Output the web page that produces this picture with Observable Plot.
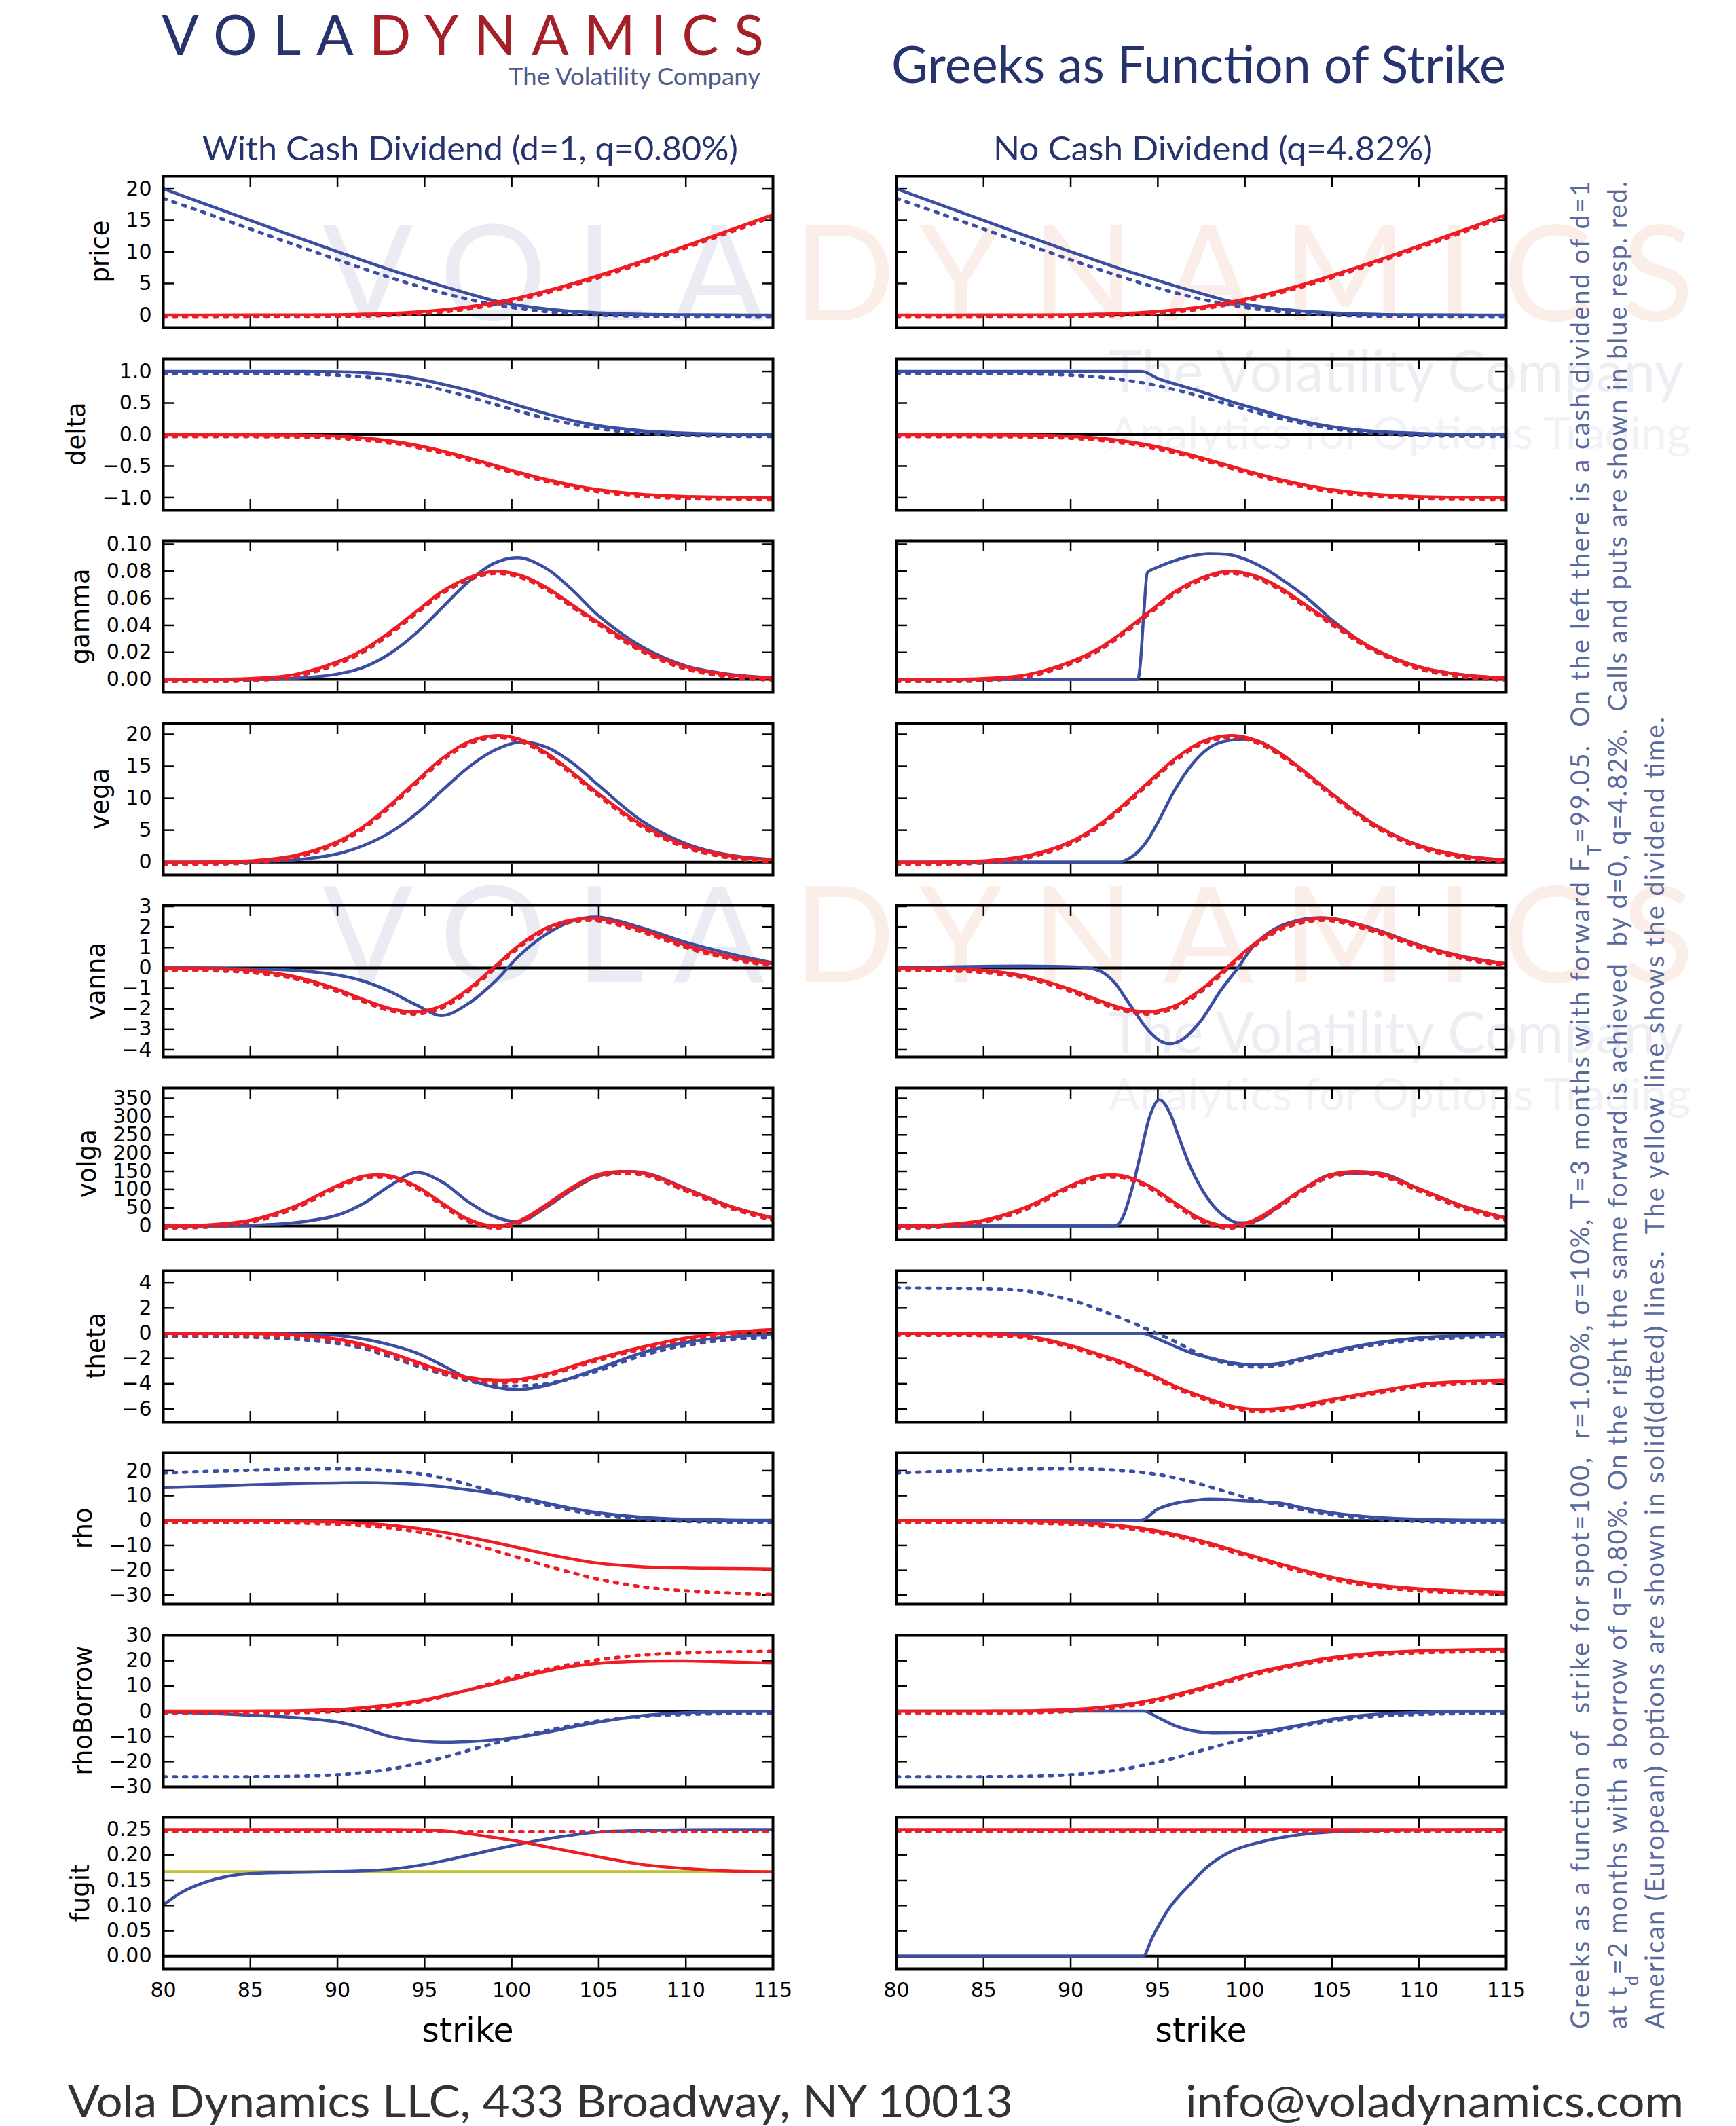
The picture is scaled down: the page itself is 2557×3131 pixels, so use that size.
<!DOCTYPE html>
<html><head><meta charset="utf-8">
<script src="https://cdn.jsdelivr.net/npm/d3@7"></script>
<script src="https://cdn.jsdelivr.net/npm/@observablehq/plot@0.6"></script>
<style>
html,body{margin:0;padding:0;background:#fff;}
#page{position:relative;width:2557px;height:3131px;overflow:hidden;background:#fff;}
svg text{white-space:pre;}
</style></head>
<body><div id="page"></div>
<script>
// ---------------- DATA ----------------
const strikes = [80,82.5,85,87.5,90,91.5,93,94.5,96,97.5,99,100.5,102,103.5,105,107.5,110,112.5,115];
const strikeTicks = [80,85,90,95,100,105,110,115];
const greekLabels = ["price","delta","gamma","vega","vanna","volga","theta","rho","rhoBorrow","fugit"];

// price
const priceTicks = [0,5,10,15,20];
const priceCallAm = [20.0,17.5,15.0,12.5,10.05,8.6,7.2,5.9,4.6,3.4,2.25,1.5,0.95,0.58,0.35,0.12,0.04,0.01,0.0];
const priceCallEu = [18.8,16.4,13.95,11.5,9.08,7.67,6.28,5.01,3.84,2.83,2.0,1.34,0.87,0.53,0.32,0.11,0.035,0.01,0.0];
const pricePut = [0,0,0.005,0.015,0.05,0.14,0.25,0.47,0.8,1.28,1.95,2.79,3.81,4.97,6.26,8.54,10.96,13.42,15.91];

// delta
const deltaTicks = [-1,-0.5,0,0.5,1];
const deltaCallAmL = [1.0,1.0,1.0,1.0,0.995,0.98,0.95,0.89,0.80,0.70,0.58,0.45,0.33,0.22,0.14,0.06,0.025,0.008,0.002];
const deltaCallEu = [1.0,1.0,0.999,0.994,0.974,0.946,0.9,0.833,0.742,0.633,0.514,0.395,0.287,0.197,0.127,0.053,0.019,0.006,0.002];
const deltaPut = [0,0,-0.001,-0.006,-0.026,-0.054,-0.1,-0.167,-0.258,-0.367,-0.486,-0.605,-0.713,-0.803,-0.873,-0.947,-0.981,-0.994,-0.998];
const deltaStrikesR = [80,94.07,95,96,97.5,99,100.5,102,103.5,105,107.5,110,112.5,115];
const deltaCallAmR = [1.0,1.0,0.89,0.80,0.68,0.54,0.42,0.30,0.20,0.125,0.05,0.02,0.006,0.002];

// gamma
const gammaTicks = [0,0.02,0.04,0.06,0.08,0.10];
const gammaEu = [0,0.0001,0.0007,0.0035,0.013,0.022,0.035,0.050,0.065,0.075,0.080,0.077,0.068,0.055,0.042,0.022,0.0093,0.0034,0.001];
const gammaCallAmL = [0,0,0.0001,0.0008,0.004,0.009,0.019,0.034,0.053,0.072,0.086,0.090,0.082,0.066,0.047,0.024,0.010,0.0038,0.0012];
const gammaStrikesR = [80,93.85,94.0,94.2,94.4,95,96,97,98,99,100,101,102,103.5,105,107.5,110,112.5,115];
const gammaCallAmR = [0,0,0.012,0.05,0.079,0.083,0.088,0.0915,0.093,0.0925,0.089,0.083,0.075,0.061,0.044,0.0215,0.0093,0.0034,0.001];

// vega
const vegaTicks = [0,5,10,15,20];
const vegaEu = [0,0.03,0.2,1.0,3.2,5.6,8.9,12.6,16.2,18.8,19.8,19.2,17.1,14.0,10.7,5.8,2.6,1.0,0.35];
const vegaCallAmL = [0,0.01,0.08,0.35,1.3,2.6,4.6,7.5,11.2,14.8,17.5,18.8,18.0,15.5,12.0,6.4,2.9,1.1,0.4];
const vegaStrikesR = [80,92.8,93.3,94,94.5,95,96,97,98,99,100,101,102,103.5,105,107.5,110,112.5,115];
const vegaCallAmR = [0,0,0.5,2.0,3.8,6.2,11.4,15.4,18.0,19.0,19.25,18.7,17.1,14.0,10.7,5.8,2.6,1.0,0.35];

// vanna
const vannaTicks = [-4,-3,-2,-1,0,1,2,3];
const vannaEu = [-0.01,-0.03,-0.12,-0.42,-1.05,-1.55,-1.98,-2.15,-1.85,-1.05,0.05,1.15,1.95,2.35,2.4,1.85,1.1,0.55,0.2];
const vannaCallAmL = [0,-0.01,-0.05,-0.12,-0.35,-0.65,-1.15,-1.8,-2.33,-1.75,-0.7,0.65,1.65,2.3,2.48,1.95,1.25,0.7,0.25];
const vannaStrikesR = [80,91.0,91.8,92.5,93.2,93.8,94.5,95.2,95.8,96.5,97.5,98.6,99.6,100.5,101.7,103.5,105,107.5,110,112.5,115];
const vannaCallAmR = [0,0,-0.2,-0.7,-1.55,-2.3,-3.1,-3.6,-3.7,-3.45,-2.55,-1.12,0,1.08,1.9,2.4,2.42,1.88,1.12,0.56,0.2];

// volga
const volgaTicks = [0,50,100,150,200,250,300,350];
const volgaEu = [0.4,3,16,53,111,137,138,110,63,19,0,16,59,107,142,146,102,55,22];
const volgaCallAmL = [0.1,0.5,2,9,30,62,110,147,121,67,26,13,52,100,138,147,103,55,22];
const volgaStrikesR = [80,92.5,93,93.5,94,94.5,95.1,95.7,96.2,96.8,97.5,98.2,98.9,99.6,100.3,101,102,103.5,105,107.5,110,112.5,115];
const volgaCallAmR = [0,0,25,99,195,295,346,309,245,170,103,55,24,9,10,22,57,106,141,146,102,55,22];

// theta
const thetaTicks = [-6,-4,-2,0,2,4];
const thetaPutL = [0,0,-0.02,-0.12,-0.46,-0.9,-1.54,-2.25,-2.96,-3.5,-3.73,-3.64,-3.23,-2.6,-1.98,-1.09,-0.37,0.07,0.3];
const thetaCallAmL = [0,0,-0.02,-0.05,-0.16,-0.46,-0.91,-1.54,-2.52,-3.59,-4.27,-4.45,-4.13,-3.5,-2.79,-1.54,-0.73,-0.29,-0.11];
const thetaCallEuL = [-0.1,-0.1,-0.15,-0.3,-0.65,-1.05,-1.7,-2.4,-3.05,-3.6,-3.95,-4.0,-3.85,-3.4,-2.8,-1.6,-0.8,-0.35,-0.15];
const thetaPutR = [0,0,-0.03,-0.22,-0.98,-1.62,-2.3,-3.2,-4.2,-5.0,-5.7,-6.03,-5.95,-5.65,-5.25,-4.62,-4.07,-3.83,-3.73];
const thetaCallEuR = [3.75,3.72,3.68,3.5,2.8,2.1,1.3,0.42,-0.5,-1.55,-2.25,-2.5,-2.38,-1.9,-1.4,-0.75,-0.36,-0.18,-0.1];
const thetaStrikesR = [80,94.1,95,96,97,98,99,100,101,102,103.5,105,107.5,110,112.5,115];
const thetaCallAmR = [0,0,-0.45,-1.05,-1.6,-1.95,-2.28,-2.47,-2.49,-2.38,-1.92,-1.42,-0.76,-0.36,-0.18,-0.1];

// rho
const rhoTicks = [-30,-20,-10,0,10,20];
const rhoCallEu = [19.9,20.5,21.0,21.5,21.6,21.4,20.8,19.8,18.0,15.3,12.2,9.3,7.0,4.8,3.1,1.3,0.5,0.15,0.05];
const rhoCallAmL = [13.2,13.7,14.3,14.8,15.1,15.2,15.0,14.5,13.6,12.3,10.9,9.3,7.0,4.8,3.1,1.3,0.5,0.15,0.05];
const rhoStrikesR = [80,94,95,96,97,98,99,100,101,102,103.5,105,107.5,110,112.5,115];
const rhoCallAmR = [0,0,4.6,6.9,8.0,8.6,8.4,7.9,7.5,7.0,4.8,3.1,1.3,0.5,0.15,0.05];
const rhoPutEu = [0,0,-0.03,-0.2,-0.7,-1.3,-2.2,-3.6,-5.6,-8.2,-11.2,-14.3,-17.4,-20.2,-22.8,-25.8,-27.4,-28.3,-28.9];
const rhoPutAmL = [0,0,-0.03,-0.2,-0.6,-1.1,-1.9,-3.1,-4.6,-6.6,-8.8,-11.1,-13.4,-15.5,-17.2,-18.6,-19.1,-19.3,-19.5];

// rhoBorrow
const rhoBTicks = [-30,-20,-10,0,10,20,30];
const rhoBCallEu = [-25.2,-25.2,-25.2,-25.0,-24.4,-23.5,-22.2,-20.2,-17.7,-14.8,-12.0,-9.3,-6.9,-4.8,-3.1,-1.3,-0.5,-0.15,-0.05];
const rhoBCallAmL = [-0.3,-0.8,-1.6,-2.5,-4.3,-6.8,-10.0,-11.7,-12.3,-12.1,-11.4,-10.2,-8.4,-6.3,-4.3,-1.8,-0.6,-0.2,-0.05];
const rhoBStrikesR = [80,94.2,95,96,97,98.4,100,101.5,103,105,107.5,110,112.5,115];
const rhoBCallAmR = [0,0,-2.5,-5.8,-7.8,-8.7,-8.5,-7.6,-5.8,-3.2,-1.3,-0.5,-0.15,-0.05];
const rhoBPutEu = [0,0,0.03,0.15,0.65,1.35,2.5,4.2,6.5,9.2,12.2,15.1,17.4,19.5,21.2,23.0,23.9,24.3,24.5];
const rhoBPutAmL = [0,0,0.03,0.15,0.65,1.35,2.5,3.9,6.0,8.3,10.8,13.4,15.8,17.8,19.0,19.8,19.9,19.5,19.0];

// fugit
const fugitTicks = [0,0.05,0.10,0.15,0.20,0.25];
const fugitEuStrikes = [80,115];
const fugitEu = [0.25,0.25];
const fugitPutAmL = [0.25,0.25,0.25,0.25,0.25,0.25,0.25,0.2495,0.2475,0.242,0.234,0.226,0.216,0.206,0.196,0.181,0.173,0.168,0.1665];
const fugitStrikesCallL = [80,81,82.5,85,87.5,90,92.5,95,97.5,100,102.5,105,107.5,110,112.5,115];
const fugitCallAmL = [0.101,0.125,0.147,0.163,0.1655,0.167,0.170,0.181,0.199,0.218,0.234,0.245,0.248,0.2495,0.25,0.25];
const fugitStrikesCallR = [80,94.15,94.7,95.6,96.8,97.9,99.1,101,102.6,104.9,107.3,110,115];
const fugitCallAmR = [0,0,0.038,0.092,0.140,0.178,0.205,0.226,0.237,0.245,0.248,0.249,0.25];
const dividendTime = [0.1667];

// ---------------- STYLE / LAYOUT ----------------
const BLUE = "#3b4ea1", RED = "#ee1c24", YEL = "#bfbf30";
const W = 2557, H = 3131;
const PW = 898, PH = 223, TOP0 = 259, PITCH = 268.6;
const COLX = {L: 240, R: 1320};
const TICKFONT = 30;

function S(ks, vs, color, dotted, curve) { return {ks, vs, color, dotted, curve}; }
const MX = "monotone-x";

const panels = [
  {domain: [-2, 22], ticks: priceTicks, fmt: "d",
   L: [S(strikes, priceCallAm, BLUE), S(strikes, priceCallEu, BLUE, true), S(strikes, pricePut, RED), S(strikes, pricePut, RED, true)],
   R: [S(strikes, priceCallAm, BLUE), S(strikes, priceCallEu, BLUE, true), S(strikes, pricePut, RED), S(strikes, pricePut, RED, true)]},
  {domain: [-1.2, 1.2], ticks: deltaTicks, fmt: ".1f",
   L: [S(strikes, deltaCallAmL, BLUE), S(strikes, deltaCallEu, BLUE, true), S(strikes, deltaPut, RED), S(strikes, deltaPut, RED, true)],
   R: [S(deltaStrikesR, deltaCallAmR, BLUE, false, MX), S(strikes, deltaCallEu, BLUE, true), S(strikes, deltaPut, RED), S(strikes, deltaPut, RED, true)]},
  {domain: [-0.0095, 0.1025], ticks: gammaTicks, fmt: ".2f",
   L: [S(strikes, gammaCallAmL, BLUE), S(strikes, gammaEu, BLUE, true), S(strikes, gammaEu, RED), S(strikes, gammaEu, RED, true)],
   R: [S(gammaStrikesR, gammaCallAmR, BLUE, false, MX), S(strikes, gammaEu, BLUE, true), S(strikes, gammaEu, RED), S(strikes, gammaEu, RED, true)]},
  {domain: [-2, 21.7], ticks: vegaTicks, fmt: "d",
   L: [S(strikes, vegaCallAmL, BLUE), S(strikes, vegaEu, BLUE, true), S(strikes, vegaEu, RED), S(strikes, vegaEu, RED, true)],
   R: [S(vegaStrikesR, vegaCallAmR, BLUE, false, MX), S(strikes, vegaEu, BLUE, true), S(strikes, vegaEu, RED), S(strikes, vegaEu, RED, true)]},
  {domain: [-4.35, 3.05], ticks: vannaTicks, fmt: "d",
   L: [S(strikes, vannaCallAmL, BLUE), S(strikes, vannaEu, BLUE, true), S(strikes, vannaEu, RED), S(strikes, vannaEu, RED, true)],
   R: [S(vannaStrikesR, vannaCallAmR, BLUE, false, "catmull-rom"), S(strikes, vannaEu, BLUE, true), S(strikes, vannaEu, RED), S(strikes, vannaEu, RED, true)]},
  {domain: [-37, 378], ticks: volgaTicks, fmt: "d",
   L: [S(strikes, volgaCallAmL, BLUE), S(strikes, volgaEu, BLUE, true), S(strikes, volgaEu, RED), S(strikes, volgaEu, RED, true)],
   R: [S(volgaStrikesR, volgaCallAmR, BLUE, false, MX), S(strikes, volgaEu, BLUE, true), S(strikes, volgaEu, RED), S(strikes, volgaEu, RED, true)]},
  {domain: [-7.05, 4.95], ticks: thetaTicks, fmt: "d",
   L: [S(strikes, thetaCallAmL, BLUE), S(strikes, thetaCallEuL, BLUE, true), S(strikes, thetaPutL, RED), S(strikes, thetaPutL, RED, true)],
   R: [S(thetaStrikesR, thetaCallAmR, BLUE, false, MX), S(strikes, thetaCallEuR, BLUE, true), S(strikes, thetaPutR, RED), S(strikes, thetaPutR, RED, true)]},
  {domain: [-33.6, 27.2], ticks: rhoTicks, fmt: "d",
   L: [S(strikes, rhoCallAmL, BLUE), S(strikes, rhoCallEu, BLUE, true), S(strikes, rhoPutAmL, RED), S(strikes, rhoPutEu, RED, true)],
   R: [S(rhoStrikesR, rhoCallAmR, BLUE, false, MX), S(strikes, rhoCallEu, BLUE, true), S(strikes, rhoPutEu, RED), S(strikes, rhoPutEu, RED, true)]},
  {domain: [-30, 30], ticks: rhoBTicks, fmt: "d",
   L: [S(strikes, rhoBCallAmL, BLUE), S(strikes, rhoBCallEu, BLUE, true), S(strikes, rhoBPutAmL, RED), S(strikes, rhoBPutEu, RED, true)],
   R: [S(rhoBStrikesR, rhoBCallAmR, BLUE, false, MX), S(strikes, rhoBCallEu, BLUE, true), S(strikes, rhoBPutEu, RED), S(strikes, rhoBPutEu, RED, true)]},
  {domain: [-0.025, 0.274], ticks: fugitTicks, fmt: ".2f", dividend: true,
   L: [S(fugitStrikesCallL, fugitCallAmL, BLUE, false, MX), S(fugitEuStrikes, fugitEu, BLUE, true, "linear"), S(strikes, fugitPutAmL, RED), S(fugitEuStrikes, fugitEu, RED, true, "linear")],
   R: [S(fugitStrikesCallR, fugitCallAmR, BLUE, false, MX), S(fugitEuStrikes, fugitEu, BLUE, true, "linear"), S(fugitEuStrikes, fugitEu, RED, false, "linear"), S(fugitEuStrikes, fugitEu, RED, true, "linear")]}
];

const page = d3.select("#page");

// text width measurement (for matplotlib-like ylabel placement)
const mctx = document.createElement("canvas").getContext("2d");
mctx.font = `${TICKFONT}px "DejaVu Sans"`;
function tickLabelWidth(p) {
  const f = d3.format(p.fmt);
  return d3.max(p.ticks, t => mctx.measureText(f(t)).width);
}

// ---------------- BACKGROUND WATERMARK ----------------
const bg = page.append("svg").attr("width", W).attr("height", H)
  .style("position", "absolute").style("left", "0px").style("top", "0px");
function wm(y) {
  const t = bg.append("text").attr("x", 475).attr("y", y).attr("font-family", "Lato").attr("font-size", 197)
    .attr("textLength", 2020).attr("lengthAdjust", "spacing");
  t.append("tspan").attr("fill", "#ebebf3").text("VOLA");
  t.append("tspan").attr("fill", "#fbeee8").text("DYNAMICS");
  bg.append("text").attr("x", 1633).attr("y", y + 105).attr("font-family", "Lato").attr("font-size", 86)
    .attr("fill", "#ededf4").attr("textLength", 847).attr("lengthAdjust", "spacingAndGlyphs").text("The Volatility Company");
  bg.append("text").attr("x", 1633).attr("y", y + 189).attr("font-family", "Lato").attr("font-size", 66)
    .attr("fill", "#f1f1f6").attr("textLength", 857).attr("lengthAdjust", "spacingAndGlyphs").text("Analytics for Options Trading");
}
wm(472); wm(1446);

// ---------------- PANELS ----------------
function makePanel(p, side, row) {
  const isLeft = side === "L", bottom = row === 9;
  const mL = isLeft ? 110 : 45, mR = 45, mT = 8, mB = bottom ? 60 : 8;
  const marks = [
    Plot.ruleY([0], {stroke: "#000", strokeWidth: 4}),
    Plot.tickY(p.ticks, {insetRight: PW - 16, stroke: "#000", strokeWidth: 2.5}),
    Plot.tickY(p.ticks, {insetLeft: PW - 16, stroke: "#000", strokeWidth: 2.5}),
    Plot.tickX(strikeTicks, {insetBottom: PH - 16, stroke: "#000", strokeWidth: 2.5}),
    Plot.tickX(strikeTicks, {insetTop: PH - 16, stroke: "#000", strokeWidth: 2.5})
  ];
  if (p.dividend && isLeft) marks.push(Plot.ruleY(dividendTime, {stroke: YEL, strokeWidth: 4.5}));
  for (const s of p[side]) {
    const rows = s.ks.map((k, i) => ({k, v: s.vs[i]}));
    marks.push(Plot.line(rows, {
      x: "k", y: "v", stroke: s.color,
      strokeWidth: s.dotted ? 5 : 4.5,
      strokeDasharray: s.dotted ? "4.5 10.5" : undefined,
      dy: s.dotted ? 3 : 0,
      curve: s.curve || "catmull-rom",
      clip: true
    }));
  }
  marks.push(Plot.frame({stroke: "#000", strokeWidth: 4}));
  if (isLeft) marks.push(Plot.axisY(p.ticks, {anchor: "left", tickSize: 0, tickPadding: 17, tickFormat: d3.format(p.fmt), fontSize: TICKFONT, label: null}));
  if (bottom) marks.push(Plot.axisX(strikeTicks, {anchor: "bottom", tickSize: 0, tickPadding: 20, tickFormat: d3.format("d"), fontSize: TICKFONT, label: null}));
  const svg = Plot.plot({
    width: mL + PW + mR, height: mT + PH + mB,
    marginLeft: mL, marginRight: mR, marginTop: mT, marginBottom: mB,
    x: {domain: [80, 115], axis: null},
    y: {domain: p.domain, axis: null},
    style: {background: "transparent", overflow: "visible", fontFamily: "DejaVu Sans", maxWidth: "none", color: "#000"},
    marks
  });
  const top = TOP0 + PITCH * row - mT;
  const div = page.append("div").style("position", "absolute")
    .style("left", (COLX[side] - mL) + "px").style("top", top + "px")
    .style("width", (mL + PW + mR) + "px").style("height", (mT + PH + mB) + "px");
  div.node().appendChild(svg);
}
panels.forEach((p, i) => { makePanel(p, "L", i); makePanel(p, "R", i); });

// ---------------- TEXT OVERLAY ----------------
const ov = page.append("svg").attr("width", W).attr("height", H)
  .style("position", "absolute").style("left", "0px").style("top", "0px").style("pointer-events", "none");
const NAVY = "#26336c";

// logo
const logo = ov.append("text").attr("x", 238).attr("y", 81).attr("font-family", "Lato").attr("font-size", 81)
  .attr("textLength", 887).attr("lengthAdjust", "spacing");
logo.append("tspan").attr("fill", NAVY).text("VOLA");
logo.append("tspan").attr("fill", "#a41f27").text("DYNAMICS");
ov.append("text").attr("x", 749).attr("y", 125).attr("font-family", "Lato").attr("font-size", 35)
  .attr("fill", "#4f5c8c").attr("textLength", 371).attr("lengthAdjust", "spacingAndGlyphs").text("The Volatility Company");

// title & subtitles
ov.append("text").attr("x", 1313).attr("y", 122).attr("font-family", "Lato").attr("font-size", 76)
  .attr("fill", NAVY).attr("textLength", 905).attr("lengthAdjust", "spacingAndGlyphs").text("Greeks as Function of Strike");
ov.append("text").attr("x", 298).attr("y", 236).attr("font-family", "Lato").attr("font-size", 48)
  .attr("fill", NAVY).attr("textLength", 789).attr("lengthAdjust", "spacingAndGlyphs").text("With Cash Dividend (d=1, q=0.80%)");
ov.append("text").attr("x", 1463).attr("y", 236).attr("font-family", "Lato").attr("font-size", 48)
  .attr("fill", NAVY).attr("textLength", 647).attr("lengthAdjust", "spacingAndGlyphs").text("No Cash Dividend (q=4.82%)");

// y labels, placed left of each panel's widest tick label (as matplotlib does)
greekLabels.forEach((g, i) => {
  const cy = TOP0 + PITCH * i + PH / 2;
  const tickLeft = COLX.L - 17 - tickLabelWidth(panels[i]);
  const bx = tickLeft - 25;
  ov.append("text").attr("transform", `translate(${bx},${cy}) rotate(-90)`).attr("text-anchor", "middle")
    .attr("font-family", "DejaVu Sans").attr("font-size", 37).attr("fill", "#000").text(g);
});
// x labels
[COLX.L, COLX.R].forEach(x0 => {
  ov.append("text").attr("x", x0 + PW / 2).attr("y", 3007).attr("text-anchor", "middle")
    .attr("font-family", "DejaVu Sans").attr("font-size", 49).attr("fill", "#000").text("strike");
});

// footer
ov.append("text").attr("x", 100).attr("y", 3118).attr("font-family", "Lato").attr("font-size", 66)
  .attr("fill", "#333333").attr("textLength", 1392).attr("lengthAdjust", "spacingAndGlyphs").text("Vola Dynamics LLC, 433 Broadway, NY 10013");
ov.append("text").attr("x", 1746).attr("y", 3118).attr("font-family", "Lato").attr("font-size", 66)
  .attr("fill", "#333333").attr("textLength", 734).attr("lengthAdjust", "spacingAndGlyphs").text("info@voladynamics.com");

// side caption
const CAP = "#5a6a9c";
function capLine(x, len, parts) {
  const t = ov.append("text").attr("transform", `translate(${x},2988) rotate(-90)`)
    .attr("font-family", "Lato").attr("font-size", 38).attr("fill", CAP)
    .attr("textLength", len).attr("lengthAdjust", "spacing");
  parts.forEach(([s, sub]) => {
    const ts = t.append("tspan").text(s);
    if (sub) ts.attr("baseline-shift", "sub").attr("font-size", 27);
  });
}
capLine(2341, 2721, [["Greeks as a function of  strike for spot=100,  r=1.00%, \u03c3=10%, T=3 months with forward F"], ["T", true], ["=99.05.  On the left there is a cash dividend of d=1"]]);
capLine(2396, 2721, [["at t"], ["d", true], ["=2 months with a borrow of q=0.80%. On the right the same forward is achieved  by d=0, q=4.82%.  Calls and puts are shown in blue resp. red."]]);
capLine(2451, 1932, [["American (European) options are shown in solid(dotted) lines.  The yellow line shows the dividend time."]]);
</script>
</body></html>
